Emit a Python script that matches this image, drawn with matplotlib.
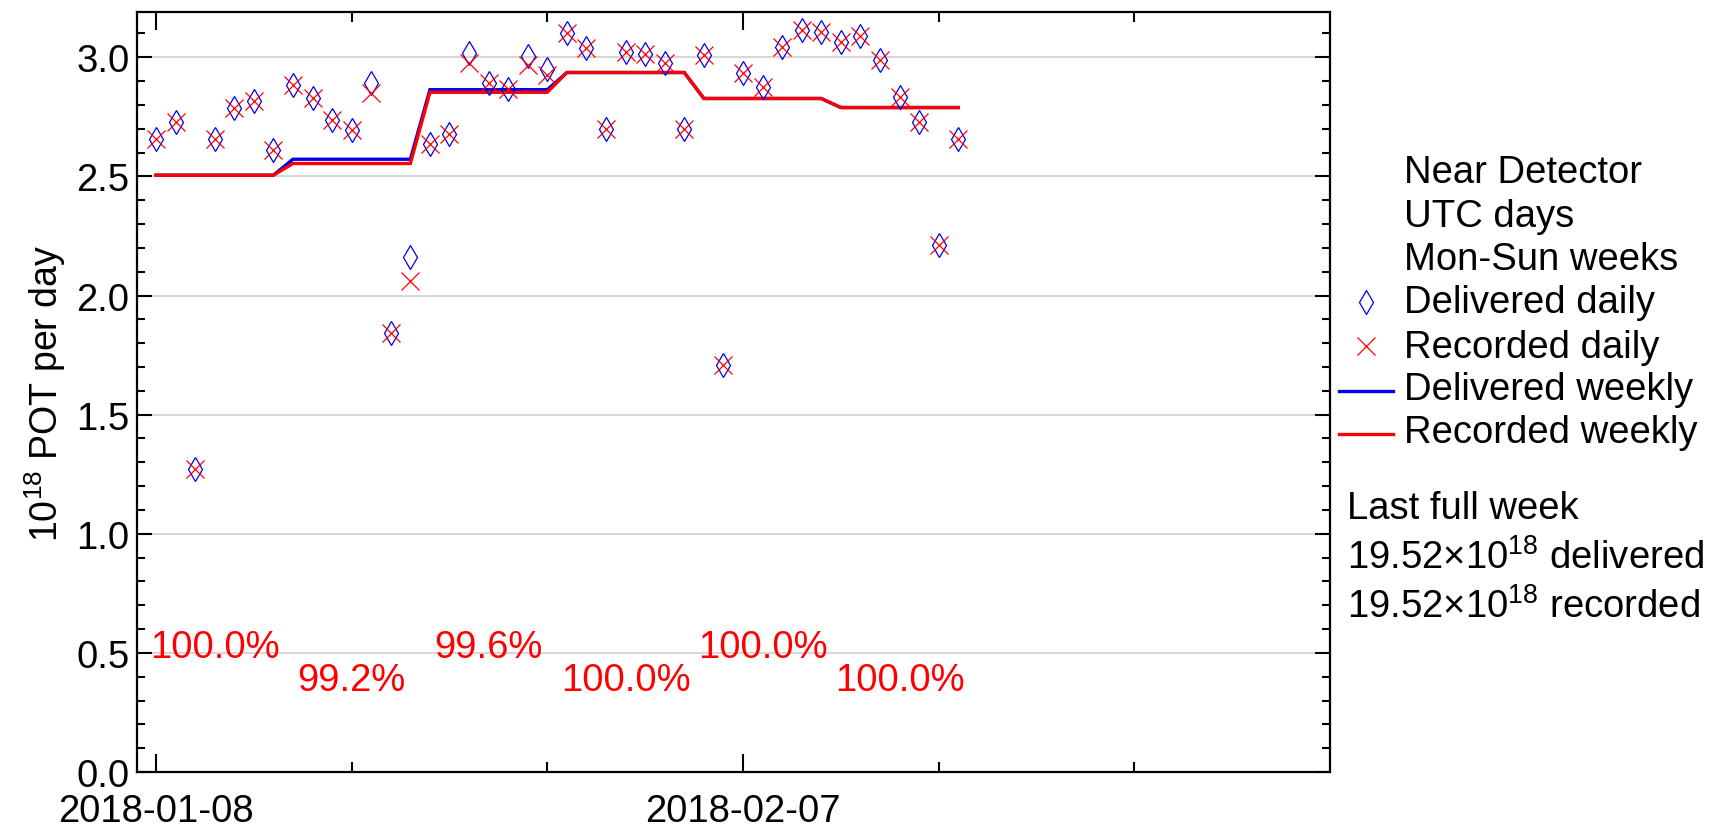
import numpy as np
import matplotlib
matplotlib.use('Agg')
import matplotlib.pyplot as plt
import matplotlib.dates as mdates
from matplotlib.lines import Line2D
from matplotlib.ticker import MultipleLocator, FixedLocator, FormatStrFormatter

plt.rcParams['font.family'] = ['Liberation Sans', 'DejaVu Sans']
plt.rcParams['mathtext.fontset'] = 'custom'
plt.rcParams['mathtext.rm'] = 'Liberation Sans'
plt.rcParams['mathtext.it'] = 'Liberation Sans:italic'
plt.rcParams['mathtext.bf'] = 'Liberation Sans:bold'

# ---------------- data ----------------
start_date = '2018-01-08'
delivered_daily = [2.657, 2.727, 1.273, 2.657, 2.787, 2.815, 2.611,
                   2.884, 2.829, 2.736, 2.694, 2.894, 1.843, 2.162,
                   2.634, 2.680, 3.018, 2.894, 2.866, 3.005, 2.949,
                   3.100, 3.037, 2.700, 3.023, 3.014, 2.977, 2.700,
                   3.009, 1.708, 2.935, 2.875, 3.042, 3.116, 3.106,
                   3.065, 3.088, 2.990, 2.833, 2.727, 2.213, 2.657]
recorded_daily = [2.657, 2.727, 1.273, 2.657, 2.787, 2.815, 2.611,
                  2.884, 2.829, 2.736, 2.694, 2.852, 1.843, 2.060,
                  2.634, 2.680, 2.977, 2.894, 2.866, 2.968, 2.926,
                  3.100, 3.037, 2.700, 3.023, 3.014, 2.977, 2.700,
                  3.009, 1.708, 2.935, 2.875, 3.042, 3.116, 3.106,
                  3.065, 3.088, 2.990, 2.833, 2.727, 2.213, 2.657]
delivered_weekly = [2.505, 2.572, 2.864, 2.936, 2.827, 2.789]
recorded_weekly = [2.505, 2.554, 2.853, 2.936, 2.827, 2.789]
week_efficiency = ['100.0%', '99.2%', '99.6%', '100.0%', '100.0%', '100.0%']
x_major_dates = ['2018-01-08', '2018-02-07']
x_minor_dates = ['2018-01-18', '2018-01-28', '2018-02-17', '2018-02-27']
legend_header = ['Near Detector', 'UTC days', 'Mon-Sun weeks']
legend_items = ['Delivered daily', 'Recorded daily', 'Delivered weekly', 'Recorded weekly']
summary_lines = ['Last full week',
                 '19.52\u00d710$^{18}$ delivered',
                 '19.52\u00d710$^{18}$ recorded']
y_label = '10$^{18}$ POT per day'

FS = 27.5

# ---------------- figure ----------------
W, H = 1724, 828
fig = plt.figure(figsize=(W / 100, H / 100), dpi=100)
ax_left, ax_right, ax_top, ax_bottom = 137, 1330, 13, 773
ax = fig.add_axes([ax_left / W, 1 - ax_bottom / H,
                   (ax_right - ax_left) / W, (ax_bottom - ax_top) / H])

t0 = mdates.date2num(np.datetime64(start_date))
days = t0 + np.arange(len(delivered_daily))
weekly_d = np.repeat(delivered_weekly, 7)
weekly_r = np.repeat(recorded_weekly, 7)

ax.plot(days, weekly_d, color='#0000ee', lw=2.4, zorder=3, solid_joinstyle='miter')
ax.plot(days, weekly_r, color='#ff0000', lw=2.4, zorder=3.1, solid_joinstyle='miter')
ax.plot(days, delivered_daily, ls='none', marker='d', ms=12, mfc='none',
        mec='#0000ee', mew=0.9, zorder=4)
ax.plot(days, recorded_daily, ls='none', marker='x', ms=13, color='#ff0000',
        mew=0.9, zorder=4.1)

week_centers = t0 + 3 + 7 * np.arange(len(week_efficiency))
for i, (xc, lab) in enumerate(zip(week_centers, week_efficiency)):
    yv = 0.483 if i % 2 == 0 else 0.344
    ax.text(xc, yv, lab, color='#ff0000', fontsize=FS, ha='center', va='baseline')

ax.set_xlim(t0 - 0.97, t0 + 60.0)
ax.set_ylim(0, 3.19)

ax.xaxis.set_major_locator(FixedLocator([mdates.date2num(np.datetime64(d)) for d in x_major_dates]))
ax.xaxis.set_minor_locator(FixedLocator([mdates.date2num(np.datetime64(d)) for d in x_minor_dates]))
ax.xaxis.set_major_formatter(mdates.DateFormatter('%Y-%m-%d'))
ax.yaxis.set_major_locator(MultipleLocator(0.5))
ax.yaxis.set_minor_locator(MultipleLocator(0.1))
ax.yaxis.set_major_formatter(FormatStrFormatter('%.1f'))

ax.tick_params(axis='both', which='both', direction='in', width=1.5, colors='black',
               labelsize=FS, top=True, right=True)
ax.tick_params(axis='x', which='major', length=13, pad=15)
ax.tick_params(axis='x', which='minor', length=7)
ax.tick_params(axis='y', which='major', length=10.5, pad=5.5)
ax.tick_params(axis='y', which='minor', length=5.8)

for s in ax.spines.values():
    s.set_linewidth(1.6)

ax.yaxis.grid(True, which='major', color='#cfcfcf', lw=1.2)
ax.set_axisbelow(True)

ax.set_ylabel(y_label, fontsize=27)
ax.yaxis.set_label_coords(-0.058, 0.5)

# ---------------- legend (drawn as text + artists) ----------------
def fx(x):
    return x / W

def fy(y):
    return 1 - y / H

text_x = 1404
baselines = [183, 227, 270, 313, 358, 400, 443]
for txt, b in zip(legend_header + legend_items, baselines):
    fig.text(fx(text_x), fy(b), txt, fontsize=FS, ha='left', va='baseline')

fig.add_artist(Line2D([fx(1366)], [fy(303)], transform=fig.transFigure, ls='none',
                      marker='d', ms=12, mfc='none', mec='#0000ee', mew=0.9))
fig.add_artist(Line2D([fx(1366)], [fy(347)], transform=fig.transFigure, ls='none',
                      marker='x', ms=13, color='#ff0000', mew=0.9))
fig.add_artist(Line2D([fx(1339), fx(1393)], [fy(392), fy(392)], transform=fig.transFigure,
                      color='#0000ee', lw=2.4))
fig.add_artist(Line2D([fx(1339), fx(1393)], [fy(435), fy(435)], transform=fig.transFigure,
                      color='#ff0000', lw=2.4))

for txt, b in zip(summary_lines, [519, 569, 618]):
    fig.text(fx(1347), fy(b), txt, fontsize=FS, ha='left', va='baseline')

fig.savefig('out.png', dpi=100, facecolor='white')
